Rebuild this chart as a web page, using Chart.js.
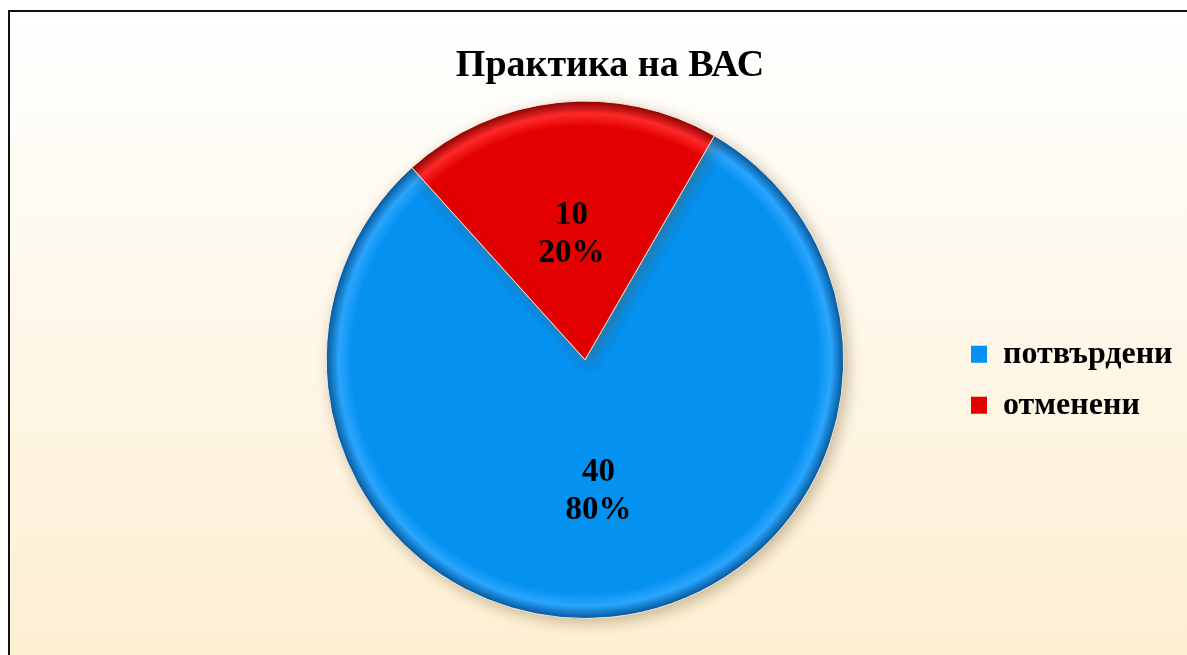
<!DOCTYPE html>
<html>
<head>
<meta charset="utf-8">
<script src="https://cdn.jsdelivr.net/npm/chart.js@4.4.1/dist/chart.umd.min.js"></script>
<style>
  html, body { margin: 0; padding: 0; background: #fff; overflow: hidden; }
  #box {
    position: absolute; left: 8px; top: 10px;
    width: 1177px; height: 643px;
    border: 2px solid #111;
    background: linear-gradient(to bottom, #ffffff 0%, #fdefd2 100%);
  }
  #wrap { position: relative; width: 1177px; height: 643px; }
</style>
</head>
<body>
<div id="box"><div id="wrap"><canvas id="chart"></canvas></div></div>
<script>
const labels = ["потвърдени", "отменени"];
const values = [40, 10];
const baseColors = ["#0591ef", "#e20000"];
const lightColors = ["#2aa6ff", "#ff2a2a"];
const rimColors = ["#04569a", "#880000"];
const serif = "'Liberation Serif', 'Times New Roman', serif";

const total = values.reduce((a, b) => a + b, 0);

// radial fill so the rim looks a bit bevelled
const sliceFill = (ctx) => {
    const i = ctx.dataIndex;
    const area = ctx.chart.chartArea;
    if (!area) return baseColors[i];
    const cx = (area.left + area.right) / 2;
    const cy = (area.top + area.bottom) / 2;
    const r = Math.min(area.right - area.left, area.bottom - area.top) / 2;
    const g = ctx.chart.ctx.createRadialGradient(cx, cy, 0, cx, cy, r);
    g.addColorStop(0, baseColors[i]);
    g.addColorStop(0.9, baseColors[i]);
    g.addColorStop(0.95, lightColors[i]);
    g.addColorStop(1, rimColors[i]);
    return g;
};

const pieShadow = {
    id: 'pieShadow',
    beforeDatasetsDraw(chart) {
        const c = chart.ctx;
        c.save();
        c.shadowColor = 'rgba(110,80,30,0.35)';
        c.shadowBlur = 14;
        c.shadowOffsetX = 4;
        c.shadowOffsetY = 4;
    },
    afterDatasetsDraw(chart) {
        chart.ctx.restore();
    }
};

// legend is kept narrow for layout, then widened so its text is not clipped
const legendOverflow = {
    id: 'legendOverflow',
    afterLayout(chart) {
        const lg = chart.legend;
        if (!lg) return;
        lg.left -= 6;
        lg.right = chart.width;
        lg.width = lg.right - lg.left;
    }
};

const sliceLabels = {
    id: 'sliceLabels',
    afterDatasetsDraw(chart) {
        const c = chart.ctx;
        const meta = chart.getDatasetMeta(0);
        c.save();
        c.fillStyle = '#000';
        c.font = 'bold 33px ' + serif;
        c.textAlign = 'center';
        c.textBaseline = 'middle';
        meta.data.forEach((arc, i) => {
            const p = arc.getCenterPoint();
            c.fillText(String(values[i]), p.x, p.y - 16);
            c.fillText(Math.round(values[i] / total * 100) + '%', p.x, p.y + 22);
        });
        c.restore();
    }
};

const chart = new Chart(document.getElementById('chart'), {
    type: 'pie',
    data: {
        labels: labels,
        datasets: [{
            data: values,
            backgroundColor: sliceFill,
            borderColor: 'rgba(255,240,225,0.9)',
            borderWidth: 1,
            clip: false
        }]
    },
    options: {
        responsive: true,
        maintainAspectRatio: false,
        animation: false,
        rotation: 30,
        layout: { padding: { left: 202, right: 179, top: 31, bottom: 36 } },
        plugins: {
            title: {
                display: true,
                text: 'Практика на ВАС',
                color: '#000',
                font: { family: serif, size: 38, weight: 'bold', lineHeight: 1.2 },
                padding: { top: 0, bottom: 12 }
            },
            legend: {
                position: 'right',
                fullSize: false,
                maxWidth: 50,
                title: { display: true, text: '', padding: { top: 0, bottom: 28 }, font: { size: 10, lineHeight: 1.2 } },
                labels: {
                    boxWidth: 16,
                    boxHeight: 17,
                    padding: 19,
                    color: '#000',
                    font: { family: serif, size: 32, weight: 'bold' },
                    generateLabels: () => labels.map((text, i) => ({
                        text: text,
                        fillStyle: baseColors[i],
                        strokeStyle: baseColors[i],
                        lineWidth: 0,
                        hidden: false,
                        index: i,
                        fontColor: '#000'
                    }))
                }
            },
            tooltip: { enabled: false }
        }
    },
    plugins: [pieShadow, sliceLabels, legendOverflow]
});
</script>
</body>
</html>
